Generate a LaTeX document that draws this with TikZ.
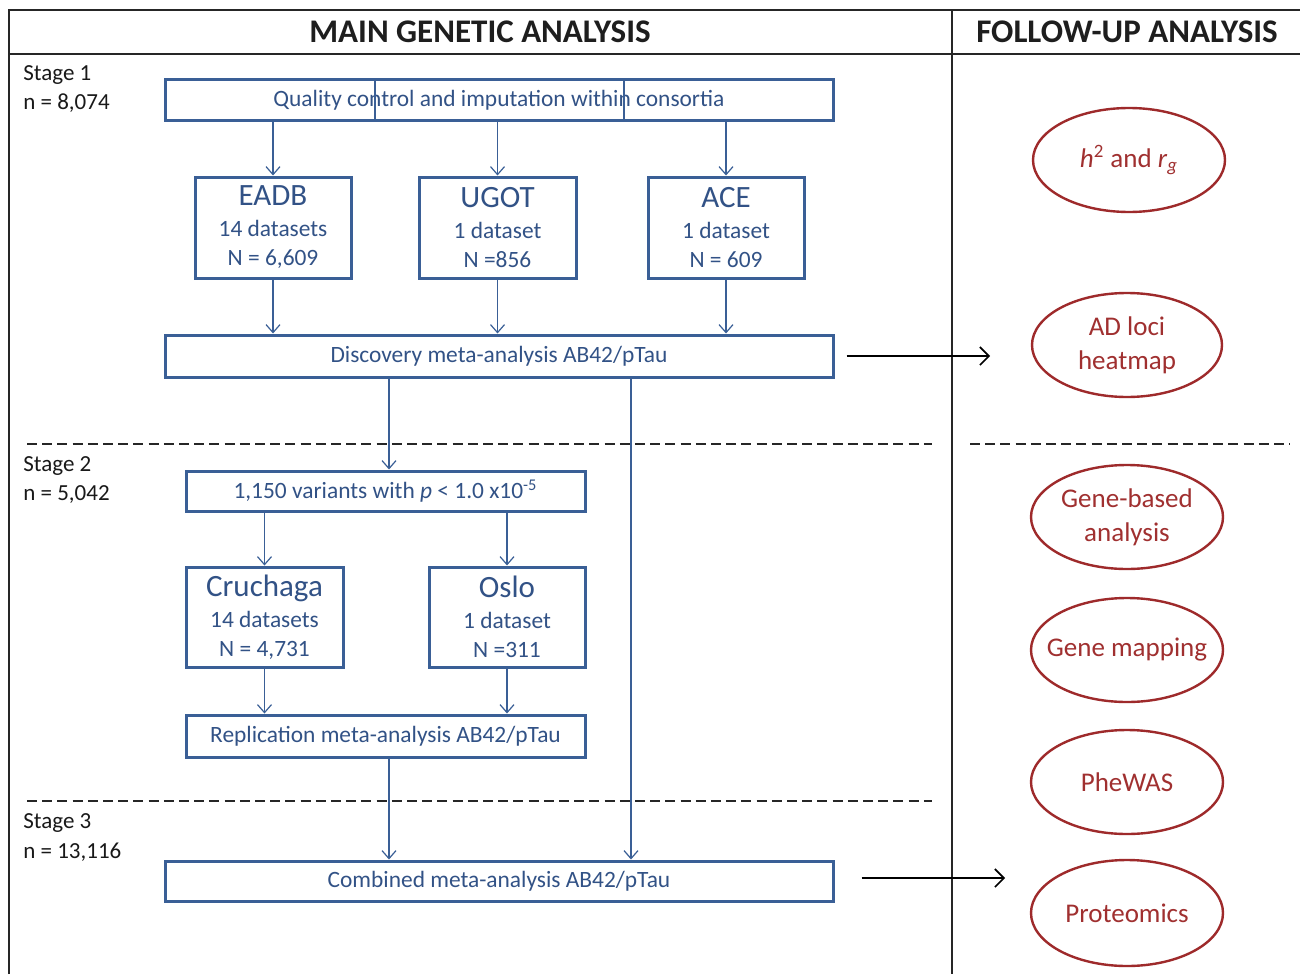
\documentclass[tikz,border=0pt]{standalone}
\usepackage{fontspec}
\setmainfont{Carlito}
\usetikzlibrary{shapes.geometric,arrows.meta}
\definecolor{boxblue}{RGB}{58,95,150}
\definecolor{txtblue}{RGB}{50,82,134}
\definecolor{ellred}{RGB}{158,42,43}
\definecolor{txtred}{RGB}{160,48,48}
\definecolor{hdr}{RGB}{30,30,30}
\tikzset{
  frameline/.style={draw=black!85, line width=0.75pt},
  sepline/.style={draw=black!85, line width=0.75pt, dash pattern=on 5pt off 2.6pt},
  hdrtext/.style={text=hdr, font=\bfseries\fontsize{16.5}{18}\selectfont, inner sep=0pt},
  stagetext/.style={anchor=west, text=black!90, font=\fontsize{11.5}{13}\selectfont, inner sep=0pt},
  flowbox/.style={draw=boxblue, line width=1.5pt, text=txtblue, inner sep=0pt, align=center,
                  font=\fontsize{11.7}{13}\selectfont},
  widebox/.style={flowbox, minimum width=334pt, minimum height=20.5pt},
  midbox/.style={flowbox, minimum width=199.5pt, minimum height=20.5pt},
  databox/.style={flowbox, minimum width=78pt, minimum height=50.5pt},
  fuell/.style={ellipse, draw=ellred, line width=1.2pt, text=txtred, inner sep=0pt, align=center,
                minimum width=96pt, minimum height=52pt, font=\fontsize{13.5}{17}\selectfont},
  flowarr/.style={draw=boxblue, line width=0.6pt, -{Straight Barb[length=4pt,width=7pt]}},
  flowline/.style={draw=boxblue, line width=0.6pt},
  outarr/.style={draw=black, line width=0.8pt, -{Straight Barb[length=4.5pt,width=9pt]}},
}
\newcommand{\bigt}[1]{{\fontsize{15.5}{18}\selectfont #1}}
\begin{document}
\begin{tikzpicture}[x=0.5pt,y=-0.5pt]
\useasboundingbox[fill=white] (0,0) rectangle (1300,974);

% frame
\draw[frameline] (9,974) -- (9,10) -- (1300,10);
\draw[frameline] (9,54) -- (1300,54);
\draw[frameline] (952,10) -- (952,974);

% headers
\node[hdrtext] (h1) at (480,32) {MAIN GENETIC ANALYSIS};
\node[hdrtext] (h2) at (1127,32) {FOLLOW-UP ANALYSIS};

% dashed separators
\draw[sepline] (27,444) -- (932,444);
\draw[sepline] (970,444) -- (1290,444);
\draw[sepline] (27,801) -- (932,801);

% stage labels
\node[stagetext] (s1a) at (23,75) {Stage 1};
\node[stagetext] (s1b) at (23,103) {n = 8,074};
\node[stagetext] (s2a) at (23,466) {Stage 2};
\node[stagetext] (s2b) at (23,495) {n = 5,042};
\node[stagetext] (s3a) at (23,823) {Stage 3};
\node[stagetext] (s3b) at (23,852) {n = 13,116};

% main flow
\node[widebox] (qc) at (499,100.5) {Quality control and imputation within consortia};
\node[databox] (eadb) at (273,227.5) {\bigt{EADB}\\[2.5pt]14 datasets\\[1.5pt]N = 6,609};
\node[databox, minimum width=78.5pt] (ugot) at (497.5,227.5) {\bigt{UGOT}\\[2.5pt]1 dataset\\[1.5pt]N =856};
\node[databox] (ace) at (726,227.5) {\bigt{ACE}\\[2.5pt]1 dataset\\[1.5pt]N = 609};
\node[widebox, minimum height=21pt] (disc) at (499,356) {Discovery meta-analysis AB42/pTau};
\node[midbox, minimum height=20pt] (var) at (385.5,491) {1,150 variants with \textit{p} < 1.0 x10\textsuperscript{-5}};
\node[databox, minimum width=78.5pt, minimum height=50pt] (cru) at (264.5,617) {\bigt{Cruchaga}\\[2.5pt]14 datasets\\[1.5pt]N = 4,731};
\node[databox, minimum height=50pt] (oslo) at (507,617) {\bigt{Oslo}\\[2.5pt]1 dataset\\[1.5pt]N =311};
\node[midbox, minimum height=21pt] (rep) at (385.5,736) {Replication meta-analysis AB42/pTau};
\node[widebox, minimum height=20pt] (comb) at (499,881) {Combined meta-analysis AB42/pTau};

% stray guide lines inside the top box
\draw[flowline] (qc.north -| 375,0) -- (qc.south -| 375,0);
\draw[flowline] (qc.north -| 624,0) -- (qc.south -| 624,0);

% arrows
\draw[flowarr] (qc.south -| eadb.north) -- (eadb.north);
\draw[flowarr] (qc.south -| ugot.north) -- (ugot.north);
\draw[flowarr] (qc.south -| ace.north) -- (ace.north);
\draw[flowarr] (eadb.south) -- (eadb.south |- disc.north);
\draw[flowarr] (ugot.south) -- (ugot.south |- disc.north);
\draw[flowarr] (ace.south) -- (ace.south |- disc.north);
\draw[flowarr] ([xshift=1.75pt]disc.south -| var.north) -- ([xshift=1.75pt]var.north);
\draw[flowarr] ([xshift=66pt]disc.south) -- ([xshift=66pt]comb.north);
\draw[flowarr] (var.south -| cru.north) -- (cru.north);
\draw[flowarr] (var.south -| oslo.north) -- (oslo.north);
\draw[flowarr] (cru.south) -- (cru.south |- rep.north);
\draw[flowarr] (oslo.south) -- (oslo.south |- rep.north);
\draw[flowarr] ([xshift=1.75pt]rep.south) -- ([xshift=1.75pt]rep.south |- comb.north);

% follow-up ellipses
\node[fuell] (e1) at (1129,160) {\textit{h}\textsuperscript{2} and \textit{r}\textsubscript{\textit{g}}};
\node[fuell, minimum width=95pt] (e2) at (1127,345) {AD loci\\heatmap};
\node[fuell] (e3) at (1127,517) {Gene-based\\analysis};
\node[fuell, inner xsep=-7pt] (e4) at (1127,650) {Gene mapping};
\node[fuell] (e5) at (1127,782) {PheWAS};
\node[fuell, minimum height=53pt] (e6) at (1127,913) {Proteomics};

% arrows to follow-up
\coordinate (f1) at (990,356);
\coordinate (f2) at (1005,878);
\draw[outarr] ([xshift=6pt]disc.east) -- (f1);
\draw[outarr] ([xshift=13.5pt,yshift=1.5pt]comb.east) -- (f2);
\end{tikzpicture}
\end{document}
